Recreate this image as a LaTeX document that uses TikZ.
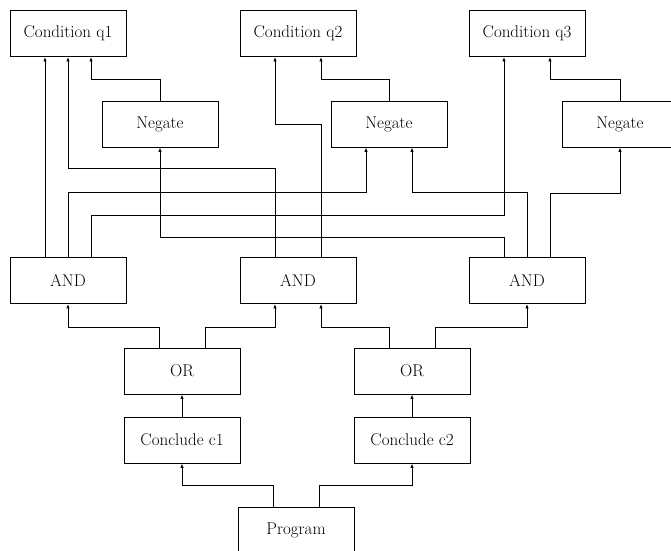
\documentclass[tikz,border=0pt]{standalone}
\usepackage{fontspec}
\usetikzlibrary{arrows.meta}
\begin{document}
\begin{tikzpicture}[x=1pt,y=-1pt,
  box/.style={draw, line width=0.9pt, minimum width=116pt, minimum height=46pt, inner sep=0pt,
    font=\fontsize{17}{20}\selectfont},
  arr/.style={line width=0.9pt, -{Latex[length=4.5pt,width=3.5pt]}},
  ln/.style={line width=0.9pt}]
\useasboundingbox (0,0) rectangle (671,550);
\fill[white] (0,0) rectangle (671,550);
\clip (0,0) rectangle (671,550);
% nodes
\node[box] (q1) at (68,33.5) {Condition q1};
\node[box] (q2) at (298,33.5) {Condition q2};
\node[box] (q3) at (527,33.5) {Condition q3};
\node[box] (n1) at (160,124) {Negate};
\node[box] (n2) at (389,124) {Negate};
\node[box] (n3) at (620,124) {Negate};
\node[box] (a1) at (68,280.5) {AND};
\node[box] (a2) at (298,280.5) {AND};
\node[box] (a3) at (527,280.5) {AND};
\node[box] (o1) at (182,371) {OR};
\node[box] (o2) at (412,371) {OR};
\node[box] (c1) at (182,440) {Conclude c1};
\node[box] (c2) at (412,440) {Conclude c2};
\node[box] (p) at (296,530) {Program};
% program -> conclude
\draw[arr] ([xshift=-23pt]p.north) -- (273,485) -| (c1.south);
\draw[arr] ([xshift=23pt]p.north) -- (319,485) -| (c2.south);
% conclude -> or
\draw[arr] (c1.north) -- (o1.south);
\draw[arr] (c2.north) -- (o2.south);
% or -> and
\draw[arr] ([xshift=-23pt]o1.north) -- (159,327) -| (a1.south);
\draw[arr] ([xshift=23pt]o1.north) -- (205,327) -| ([xshift=-23pt]a2.south);
\draw[arr] ([xshift=-23pt]o2.north) -- (389,327) -| ([xshift=23pt]a2.south);
\draw[arr] ([xshift=23pt]o2.north) -- (435,327) -| (a3.south);
% and1
\draw[arr] ([xshift=-23pt]a1.north) -- ([xshift=-23pt]q1.south);
\draw[arr] (a1.north) -- (68,192) -| ([xshift=-23pt]n2.south);
\draw[arr] ([xshift=23pt]a1.north) -- (91,215) -| ([xshift=-23pt]q3.south);
% and2
\draw[arr] ([xshift=-23pt]a2.north) -- (275,168) -| (q1.south);
\draw[arr] ([xshift=23pt]a2.north) -- (321,124) -| ([xshift=-23pt]q2.south);
% and3
\draw[arr] ([xshift=-23pt]a3.north) -- (504,237) -| (n1.south);
\draw[arr] (a3.north) -- (527,192) -| ([xshift=23pt]n2.south);
\draw[arr] ([xshift=23pt]a3.north) -- (550,193) -| (n3.south);
% negate -> condition
\draw[arr] (n1.north) -- (160,79) -| ([xshift=23pt]q1.south);
\draw[arr] (n2.north) -- (389,79) -| ([xshift=23pt]q2.south);
\draw[arr] (n3.north) -- (620,79) -| ([xshift=23pt]q3.south);
\end{tikzpicture}
\end{document}
